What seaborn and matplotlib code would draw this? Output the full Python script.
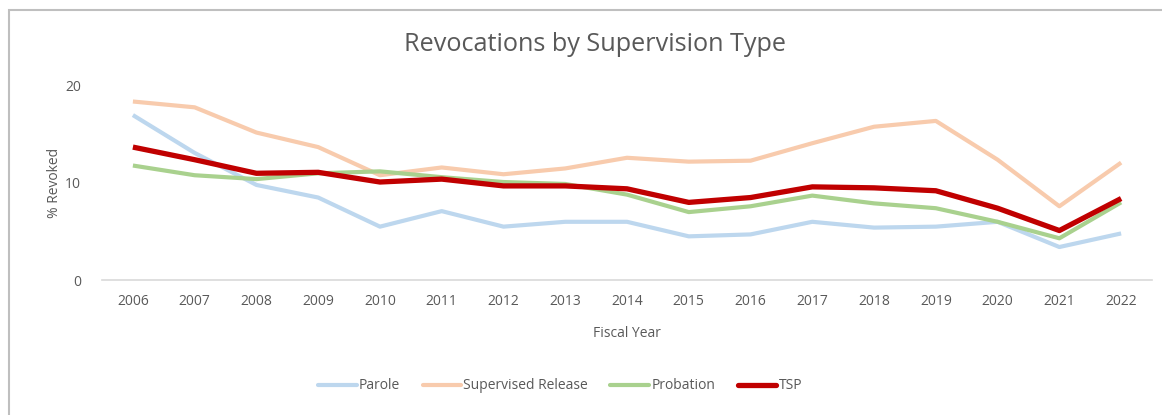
import matplotlib
matplotlib.use("Agg")
import matplotlib.pyplot as plt
from matplotlib.patches import Rectangle
import seaborn as sns
import pandas as pd

# --- dados ---
anos = list(range(2006, 2023))
parole = [17.0, 13.1, 9.8, 8.5, 5.5, 7.1, 5.5, 6.0, 6.0, 4.5, 4.7, 6.0, 5.4, 5.5, 6.0, 3.4, 4.8]
supervised = [18.4, 17.8, 15.2, 13.7, 10.8, 11.6, 10.9, 11.5, 12.6, 12.2, 12.3, 14.1, 15.8, 16.4, 12.4, 7.6, 12.1]
probation = [11.8, 10.8, 10.4, 11.0, 11.2, 10.6, 10.1, 9.9, 8.8, 7.0, 7.6, 8.7, 7.9, 7.4, 6.0, 4.3, 8.0]
tsp = [13.7, 12.4, 11.0, 11.1, 10.1, 10.4, 9.7, 9.7, 9.4, 8.0, 8.5, 9.6, 9.5, 9.2, 7.4, 5.1, 8.4]

series = ["Parole", "Supervised Release", "Probation", "TSP"]
cores = ["#BDD7EE", "#F8CBAD", "#A9D18E", "#C00000"]
larguras = [3.0, 3.0, 3.0, 3.8]

df = pd.DataFrame({
    "ano": [str(a) for a in anos] * 4,
    "valor": parole + supervised + probation + tsp,
    "tipo": [s for s in series for _ in anos],
})

sns.set_theme(style="white")
plt.rcParams["font.family"] = ["Open Sans", "DejaVu Sans"]
cinza = "#595959"

fig = plt.figure(figsize=(11.62, 4.15), dpi=100)
ax = fig.add_axes([0.0878, 0.3253, 0.9036, 0.4675])

sns.lineplot(data=df, x="ano", y="valor", hue="tipo", palette=dict(zip(series, cores)),
             sort=False, ax=ax, legend=False)
for linha, lw in zip(ax.lines, larguras):
    linha.set_linewidth(lw)
    linha.set_solid_capstyle("butt")

ax.set_xlim(-0.5, len(anos) - 0.5)
ax.set_ylim(0, 20)
ax.set_yticks([0, 10, 20])
for s in ["top", "right", "left"]:
    ax.spines[s].set_visible(False)
ax.spines["bottom"].set_color("#D9D9D9")
ax.spines["bottom"].set_linewidth(1.2)
ax.tick_params(axis="both", length=0, labelsize=10, labelcolor=cinza)
ax.tick_params(axis="x", pad=10)
ax.tick_params(axis="y", pad=15)
ax.set_xlabel("Fiscal Year", fontsize=10, color=cinza, labelpad=12)
ax.set_ylabel("% Revoked", fontsize=10, color=cinza, labelpad=2)

fig.text(0.512, 0.893, "Revocations by Supervision Type", ha="center", va="center",
         fontsize=18.2, color=cinza)

handles = [plt.Line2D([], [], color=c, lw=lw) for c, lw in zip(cores, larguras)]
fig.legend(handles, series, loc="center", bbox_to_anchor=(0.482, 0.07), ncol=4,
           frameon=False, fontsize=10, labelcolor=cinza, handlelength=2.8,
           handletextpad=0.15, columnspacing=1.6)

# moldura do gráfico (borda cinza à esquerda e em cima)
fig.patches.append(Rectangle((9 / 1162, -0.1), 1.2, 1 - 10 / 415 + 0.1, transform=fig.transFigure,
                             fill=False, edgecolor="#BFBFBF", linewidth=1.5))

fig.savefig("out.png", dpi=100, facecolor="white")
